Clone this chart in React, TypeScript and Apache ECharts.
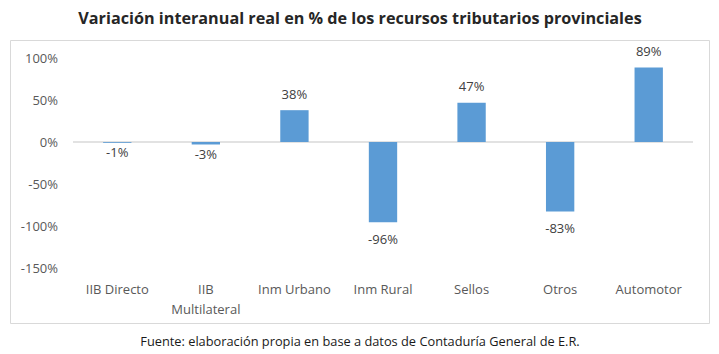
import React, { useEffect, useRef } from "react";
import * as echarts from "echarts";

const TITLE = "Variación interanual real en % de los recursos tributarios provinciales";
const SOURCE = "Fuente: elaboración propia en base a datos de Contaduría General de E.R.";
const categories = ["IIB Directo", "IIB Multilateral", "Inm Urbano", "Inm Rural", "Sellos", "Otros", "Automotor"];
const values = [-1, -3, 38, -96, 47, -83, 89];
const yMin = -150;
const yMax = 100;
const yStep = 50;

export default function App() {
  const ref = useRef<HTMLDivElement>(null);
  useEffect(() => {
    if (!ref.current) return;
    const chart = echarts.init(ref.current, null, { renderer: "svg" });
    const font = "'Open Sans', 'Noto Sans', sans-serif";
    chart.setOption({
      animation: false,
      backgroundColor: "#ffffff",
      textStyle: { fontFamily: font },
      graphic: [
        {
          type: "rect",
          shape: { x: 10.5, y: 40.5, width: 699, height: 283 },
          style: { fill: "none", stroke: "#d9d9d9", lineWidth: 1 },
          silent: true,
          z: -1,
        },
        {
          type: "text",
          x: 360,
          y: 18,
          style: {
            text: TITLE,
            font: `bold 16.2px ${font}`,
            fill: "#262626",
            align: "center",
            verticalAlign: "middle",
          },
        },
        {
          type: "text",
          x: 360,
          y: 341,
          style: {
            text: SOURCE,
            font: `12.8px ${font}`,
            fill: "#1a1a1a",
            align: "center",
            verticalAlign: "middle",
          },
        },
      ],
      grid: { left: 73, right: 26, top: 58.3, bottom: 86.5, containLabel: false },
      xAxis: {
        type: "category",
        data: categories,
        axisLine: { show: false },
        axisTick: { show: false },
        axisLabel: {
          color: "#595959",
          fontSize: 13,
          fontFamily: font,
          margin: 11,
          lineHeight: 20,
          interval: 0,
          formatter: (v: string) => (v.length > 12 ? v.replace(" ", "\n") : v),
        },
      },
      yAxis: {
        type: "value",
        min: yMin,
        max: yMax,
        interval: yStep,
        splitLine: { show: false },
        axisLine: { show: false },
        axisTick: { show: false },
        axisLabel: {
          color: "#595959",
          fontSize: 13,
          fontFamily: font,
          margin: 15,
          formatter: (v: number) => `${v}%`,
        },
      },
      series: [
        {
          type: "bar",
          barCategoryGap: "68%",
          itemStyle: { color: "#5b9bd5" },
          data: values.map((v) => ({
            value: v,
            label: {
              position: v < 0 ? "bottom" : "top",
              distance: Math.abs(v) < 5 ? 3 : 10,
            },
          })),
          label: {
            show: true,
            color: "#404040",
            fontSize: 13,
            fontFamily: font,
            distance: 10,
            formatter: (p: any) => `${p.value}%`,
          },
          markLine: {
            silent: true,
            symbol: "none",
            label: { show: false },
            lineStyle: { color: "#d9d9d9", type: "solid", width: 1.5 },
            data: [{ yAxis: 0 }],
            z: 1,
          },
        },
      ],
    });
    return () => chart.dispose();
  }, []);
  return (
    <div
      ref={ref}
      style={{ position: "fixed", left: 0, top: 0, width: 719, height: 354 }}
    />
  );
}
